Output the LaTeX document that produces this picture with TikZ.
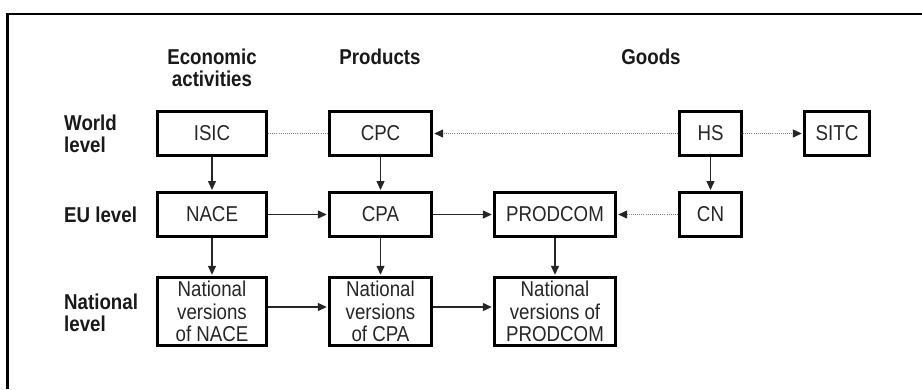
\documentclass[tikz,border=0pt]{standalone}
\usepackage{fontspec}
\setmainfont{Liberation Sans}[FakeStretch=0.87]
\usetikzlibrary{arrows.meta}
\begin{document}
\begin{tikzpicture}[x=1pt,y=-1pt,
  box/.style={draw=black, line width=2.6pt, fill=white, inner sep=0pt, align=center,
    font=\fontsize{21.5}{22.5}\selectfont, text=black!85},
  lab/.style={font=\bfseries\fontsize{21.5}{22}\selectfont, align=left, anchor=west, inner sep=0pt, text=black!90},
  head/.style={font=\bfseries\fontsize{21.5}{22}\selectfont, align=center, inner sep=0pt, text=black!90},
  arr/.style={draw=black!85, line width=1.3pt, -{Triangle[length=9pt,width=8pt]}, shorten >=1.2pt},
  dot/.style={draw=black!50, line width=1.2pt, dash pattern=on 1pt off 1.1pt},
  dotarr/.style={dot, -{Triangle[length=9pt,width=8pt,color=black!85,fill=black!85]}, shorten >=1.2pt}
]
\fill[white] (0,0) rectangle (922,389);
\useasboundingbox (0,0) rectangle (922,389);
\draw[line width=2.6pt] (922,14) -- (7.5,14) -- (7.5,389);

% headers
\node[head] (hea) at (212,68) {Economic\\activities};
\node[head] (hpr) at (380,57) {Products};
\node[head] (hgo) at (651,57) {Goods};

% row labels
\node[lab] (lw) at (64,134) {World\\level};
\node[lab] (le) at (64,215) {EU level};
\node[lab] (ln) at (64,312.5) {National\\level};

% boxes
\node[box, minimum width=109.4pt, minimum height=44pt] (isic) at (212,133.5) {ISIC};
\node[box, minimum width=109.4pt, minimum height=44pt] (nace) at (212,214.5) {NACE};
\node[box, minimum width=109.4pt, minimum height=68.4pt] (natnace) at (212,311.5) {National\\versions\\of NACE};
\node[box, minimum width=102.4pt, minimum height=44pt] (cpc) at (380.5,133.5) {CPC};
\node[box, minimum width=102.4pt, minimum height=44pt] (cpa) at (380.5,214.5) {CPA};
\node[box, minimum width=102.4pt, minimum height=68.4pt] (natcpa) at (380.5,311.5) {National\\versions\\of CPA};
\node[box, minimum width=121.4pt, minimum height=44pt] (prodcom) at (555,214.5) {PRODCOM};
\node[box, minimum width=121.4pt, minimum height=68.4pt] (natprod) at (555,311.5) {National\\versions of\\PRODCOM};
\node[box, minimum width=62.4pt, minimum height=44pt] (hs) at (710.5,133.5) {HS};
\node[box, minimum width=62.4pt, minimum height=44pt] (cn) at (710.5,214.5) {CN};
\node[box, minimum width=65.4pt, minimum height=44pt] (sitc) at (837,133.5) {SITC};

% solid arrows
\draw[arr] (isic) -- (nace);
\draw[arr] (nace) -- (natnace);
\draw[arr] (cpc) -- (cpa);
\draw[arr] (cpa) -- (natcpa);
\draw[arr] (prodcom) -- (natprod);
\draw[arr] (hs) -- (cn);
\draw[arr] (nace) -- (cpa);
\draw[arr] (cpa) -- (prodcom);
\draw[arr] ([yshift=4.5pt]natnace.east) -- ([yshift=4.5pt]natcpa.west);
\draw[arr] ([yshift=4.5pt]natcpa.east) -- ([yshift=4.5pt]natprod.west);

% dotted links
\draw[dot] (isic) -- (cpc);
\draw[dotarr] (hs) -- (cpc);
\draw[dotarr] (hs) -- (sitc);
\draw[dotarr] (cn) -- (prodcom);
\end{tikzpicture}
\end{document}
